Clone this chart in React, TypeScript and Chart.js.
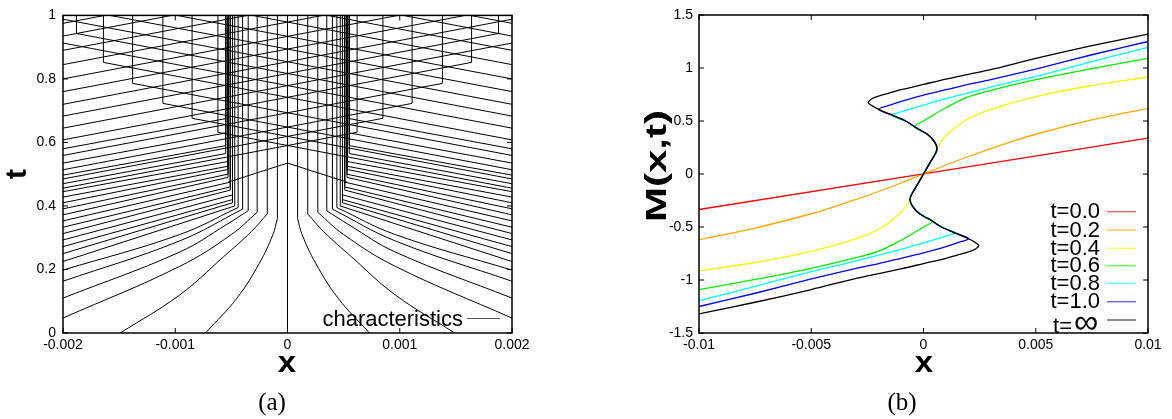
import React, { useEffect, useRef } from 'react';
import { Chart, registerables } from 'chart.js';
Chart.register(...registerables);

const SANS = '"Liberation Sans", Arial, Helvetica, sans-serif';
const SERIF = '"Liberation Serif", "DejaVu Serif", serif';

// ---------------- Panel (a): characteristics ----------------
const xTicksA = [-0.002, -0.001, 0, 0.001, 0.002];
const xTickLabelsA = ['-0.002', '-0.001', '0', '0.001', '0.002'];
const tTicksA = [0, 0.2, 0.4, 0.6, 0.8, 1];
const tTickLabelsA = ['0', '0.2', '0.4', '0.6', '0.8', '1'];

// curved early characteristics (left half), each ends in a vertical up to t = 1
const curveX = [
  [-0.00073, -0.00045, -0.00025, -0.00013, -0.00009],
  [-0.00149, -0.00096, -0.00057, -0.00032, -0.00018],
  [-0.002, -0.00096, -0.0005, -0.00027],
  [-0.002, -0.00096, -0.00055, -0.00035],
  [-0.002, -0.00096, -0.0004],
  [-0.002, -0.00096, -0.00044],
];
const curveT = [
  [0, 0.11, 0.22, 0.31, 0.36],
  [0, 0.12, 0.24, 0.32, 0.375],
  [0.047, 0.21, 0.31, 0.38],
  [0.11, 0.255, 0.34, 0.385],
  [0.163, 0.29, 0.39],
  [0.198, 0.31, 0.395],
];
// characteristics entering at x = -0.002 that stop in the dense band
const bandInT = [0.225, 0.25, 0.272, 0.293, 0.313, 0.333, 0.353, 0.372, 0.391, 0.41, 0.428, 0.445, 0.47, 0.497, 0.535, 0.58];
const bandStopX = [-0.00047, -0.00049, -0.00049, -0.00049, -0.00051, -0.00051, -0.00051, -0.00053, -0.00053, -0.00053, -0.00053, -0.00053, -0.00055, -0.00055, -0.00055, -0.00055];
const bandStopT = [0.4, 0.41, 0.42, 0.435, 0.45, 0.46, 0.475, 0.49, 0.5, 0.515, 0.525, 0.54, 0.565, 0.59, 0.63, 0.675];
// characteristics crossing the centre and stopping on the far side
const crossInT = [0.456, 0.485, 0.514, 0.559, 0.608, 0.683];
const crossStopX = [0.00062, 0.00085, 0.00111, 0.00138, 0.00164, 0.00188];
const crossStopT = [0.632, 0.676, 0.723, 0.786, 0.852, 0.943];
// characteristics passing straight through (t where they meet x = +0.002)
const passInT = [0.645, 0.72, 0.76, 0.8, 0.845, 0.89, 0.935, 0.975];
const passOutT = [0.913, 0.988, 1.028, 1.068, 1.113, 1.158, 1.203, 1.243];
// centre junction
const centerX = [-0.00053, 0, 0];
const centerT = [0.475, 0.535, 1];

// ---------------- Panel (b): M(x,t) ----------------
const xTicksB = [-0.01, -0.005, 0, 0.005, 0.01];
const xTickLabelsB = ['-0.01', '-0.005', '0', '0.005', '0.01'];
const mTicksB = [-1.5, -1, -0.5, 0, 0.5, 1, 1.5];
const mTickLabelsB = ['-1.5', '-1', '-0.5', '0', '0.5', '1', '1.5'];

const redX = [-0.01, 0.01];
const redM = [-0.335, 0.338];
const orangeX = [0, 0.001, 0.002, 0.003, 0.004, 0.005, 0.0075, 0.01];
const orangeM = [0, 0.085, 0.165, 0.24, 0.31, 0.375, 0.51, 0.62];
const yellowX = [0, 0.0003, 0.00055, 0.0006, 0.001, 0.0019, 0.003, 0.005, 0.0075, 0.01];
const yellowM = [0, 0.11, 0.2, 0.245, 0.36, 0.51, 0.61, 0.73, 0.835, 0.915];
const greenX = [-0.0004, 0, 0.00044, 0.001, 0.0019, 0.003, 0.005, 0.0075, 0.01];
const greenM = [0.446, 0.5, 0.557, 0.625, 0.72, 0.79, 0.89, 0.995, 1.09];
const cyanX = [-0.0014, -0.001, 0, 0.001, 0.002, 0.003, 0.005, 0.0075, 0.01];
const cyanM = [0.555, 0.585, 0.65, 0.71, 0.765, 0.82, 0.92, 1.06, 1.195];
const blueX = [-0.002, -0.0015, -0.001, 0, 0.001, 0.002, 0.003, 0.005, 0.0075, 0.01];
const blueM = [0.61, 0.65, 0.685, 0.745, 0.795, 0.845, 0.89, 0.99, 1.125, 1.25];
const blackUpX = [-0.00246, -0.0023, -0.002, -0.0015, -0.001, 0, 0.001, 0.002, 0.003, 0.005, 0.0075, 0.01];
const blackUpM = [0.675, 0.71, 0.735, 0.765, 0.795, 0.845, 0.895, 0.94, 0.985, 1.09, 1.21, 1.32];
const blackMidX = [0, 0.0003, 0.00055, 0.0006, 0.0005, 0.0002, -0.0004, -0.0008, -0.0014, -0.002, -0.0023, -0.00246];
const blackMidM = [0, 0.11, 0.2, 0.245, 0.3, 0.37, 0.446, 0.5, 0.555, 0.61, 0.645, 0.675];

const legendLabels = ['t=0.0', 't=0.2', 't=0.4', 't=0.6', 't=0.8', 't=1.0'];
const curveColors = ['#ff0000', '#ffa500', '#f5f500', '#00ee00', '#00ffff', '#0000ff', '#000000'];
const legendColors = ['#ff6b6b', '#ffc56b', '#ffff6b', '#6bff6b', '#6bffff', '#6b6bff', '#6b6b6b'];

type P = { x: number; y: number };
const pts = (xs: number[], ys: number[]): P[] => xs.map((x, i) => ({ x, y: ys[i] }));
const dedupe = (l: P[]): P[] => l.filter((p, i) => i === 0 || p.x !== l[i - 1].x || p.y !== l[i - 1].y);

type Line = { pts: P[]; smooth: boolean };

function leftHalfLines(): Line[] {
  const lines: Line[] = [];
  curveX.forEach((xs, i) => {
    const l = pts(xs, curveT[i]);
    lines.push({ pts: l, smooth: true });
    const last = l[l.length - 1];
    lines.push({ pts: [last, { x: last.x, y: 1 }], smooth: false });
  });
  bandInT.forEach((t, i) =>
    lines.push({
      pts: [{ x: -0.002, y: t }, { x: bandStopX[i], y: bandStopT[i] }, { x: bandStopX[i], y: 1 }],
      smooth: false,
    })
  );
  crossInT.forEach((t, i) =>
    lines.push({
      pts: [{ x: -0.002, y: t }, { x: crossStopX[i], y: crossStopT[i] }, { x: crossStopX[i], y: 1 }],
      smooth: false,
    })
  );
  passInT.forEach((t, i) => lines.push({ pts: [{ x: -0.002, y: t }, { x: 0.002, y: passOutT[i] }], smooth: false }));
  lines.push({ pts: pts(centerX, centerT), smooth: false });
  return lines;
}

function frameTicksPlugin(xt: number[], yt: number[]) {
  return {
    id: 'frameTicks',
    afterDraw(chart: any) {
      const { ctx, chartArea: a, scales } = chart;
      ctx.save();
      ctx.strokeStyle = '#000';
      ctx.lineWidth = 1;
      ctx.beginPath();
      xt.forEach((v) => {
        const p = scales.x.getPixelForValue(v);
        ctx.moveTo(p, a.bottom);
        ctx.lineTo(p, a.bottom - 5);
        ctx.moveTo(p, a.top);
        ctx.lineTo(p, a.top + 5);
      });
      yt.forEach((v) => {
        const p = scales.y.getPixelForValue(v);
        ctx.moveTo(a.left, p);
        ctx.lineTo(a.left + 5, p);
        ctx.moveTo(a.right, p);
        ctx.lineTo(a.right - 5, p);
      });
      ctx.stroke();
      ctx.lineWidth = 1.5;
      ctx.strokeRect(a.left, a.top, a.right - a.left, a.bottom - a.top);
      ctx.restore();
    },
  };
}

function axisOpts(min: number, max: number, ticks: number[], labels: string[], pad: number, fit: (s: any) => void) {
  return {
    type: 'linear',
    min,
    max,
    afterBuildTicks: (s: any) => {
      s.ticks = ticks.map((v) => ({ value: v }));
    },
    afterFit: fit,
    grid: { display: false, drawTicks: false },
    border: { display: false },
    ticks: {
      autoSkip: false,
      maxRotation: 0,
      padding: pad,
      color: '#000',
      font: { family: SANS, size: 14 },
      callback: (_v: any, i: number) => labels[i],
    },
  };
}

export default function App() {
  const refA = useRef<HTMLCanvasElement>(null);
  const refB = useRef<HTMLCanvasElement>(null);

  useEffect(() => {
    // ---- panel a ----
    const half = leftHalfLines();
    const mirrored = half.map((l) => ({ pts: l.pts.map((p) => ({ x: -p.x, y: p.y })), smooth: l.smooth }));
    const allLines: Line[] = [...half, ...mirrored, { pts: [{ x: 0, y: 0 }, { x: 0, y: 1 }], smooth: false }];
    const dsA = allLines.map((l) => ({
      data: l.pts,
      showLine: true,
      borderColor: '#000',
      borderWidth: 1,
      pointRadius: 0,
      tension: l.smooth ? 0.4 : 0,
    }));

    const textA = {
      id: 'textA',
      afterDraw(chart: any) {
        const ctx = chart.ctx;
        ctx.save();
        ctx.fillStyle = '#000';
        ctx.textAlign = 'center';
        ctx.textBaseline = 'alphabetic';
        ctx.font = `bold 30px ${SANS}`;
        ctx.save();
        ctx.translate(287, 372);
        ctx.scale(1.1, 1);
        ctx.fillText('x', 0, 0);
        ctx.restore();
        ctx.save();
        ctx.translate(26, 174);
        ctx.rotate(-Math.PI / 2);
        ctx.fillText('t', 0, 0);
        ctx.restore();
        ctx.font = `25px ${SERIF}`;
        ctx.fillText('(a)', 272, 410);
        ctx.textAlign = 'right';
        ctx.font = `22px ${SANS}`;
        ctx.fillText('characteristics', 463, 326);
        ctx.strokeStyle = '#555';
        ctx.lineWidth = 1;
        ctx.beginPath();
        ctx.moveTo(467, 318.5);
        ctx.lineTo(500, 318.5);
        ctx.stroke();
        ctx.restore();
      },
    };

    const chartA = new Chart(refA.current as HTMLCanvasElement, {
      type: 'scatter',
      data: { datasets: dsA as any },
      options: {
        responsive: false,
        animation: false,
        devicePixelRatio: 1,
        layout: { padding: { left: 0, top: 15, right: 68, bottom: 0 } },
        plugins: { legend: { display: false }, tooltip: { enabled: false } },
        events: [],
        scales: {
          x: axisOpts(-0.002, 0.002, xTicksA, xTickLabelsA, 4, (s: any) => {
            s.height = 86;
          }),
          y: axisOpts(0, 1, tTicksA, tTickLabelsA, 7, (s: any) => {
            s.width = 63;
          }),
        } as any,
      },
      plugins: [frameTicksPlugin(xTicksA, tTicksA), textA],
    });

    // ---- panel b ----
    const midPts: P[] = [
      ...blackMidX
        .slice(1)
        .map((x, i) => ({ x: -x, y: -blackMidM[i + 1] }))
        .reverse(),
      ...pts(blackMidX, blackMidM),
    ];
    const fullCurve = (xs: number[], ms: number[]): P[] => {
      const upper = pts(xs, ms);
      const lower = upper.map((p) => ({ x: -p.x, y: -p.y })).reverse();
      const join = upper[0].y;
      const mid = midPts.filter((p) => Math.abs(p.y) < join - 1e-9);
      return dedupe([...lower, ...mid, ...upper]);
    };
    const curves: P[][] = [
      pts(redX, redM),
      fullCurve(orangeX, orangeM),
      fullCurve(yellowX, yellowM),
      fullCurve(greenX, greenM),
      fullCurve(cyanX, cyanM),
      fullCurve(blueX, blueM),
      fullCurve(blackUpX, blackUpM),
    ];
    // first dataset is drawn on top in Chart.js: put black first
    const dsB = curves
      .map((c, i) => ({
        data: c,
        showLine: true,
        borderColor: curveColors[i],
        borderWidth: 1.3,
        pointRadius: 0,
        tension: 0.3,
      }))
      .reverse();

    const OX = 590;
    const textB = {
      id: 'textB',
      afterDraw(chart: any) {
        const ctx = chart.ctx;
        ctx.save();
        ctx.fillStyle = '#000';
        ctx.textBaseline = 'alphabetic';
        ctx.textAlign = 'center';
        ctx.font = `bold 30px ${SANS}`;
        ctx.save();
        ctx.translate(924 - OX, 372);
        ctx.scale(1.1, 1);
        ctx.fillText('x', 0, 0);
        ctx.restore();
        ctx.save();
        ctx.translate(666 - OX, 166);
        ctx.rotate(-Math.PI / 2);
        ctx.scale(1.4, 1);
        ctx.fillText('M(x,t)', 0, 0);
        ctx.restore();
        ctx.font = `25px ${SERIF}`;
        ctx.fillText('(b)', 902 - OX, 410);
        // legend
        ctx.textAlign = 'right';
        ctx.font = `22px ${SANS}`;
        const lineY = [211.7, 230, 248.3, 265.7, 283.3, 301.7, 320];
        legendLabels.forEach((lab, i) => {
          ctx.fillText(lab, 1100 - OX, lineY[i] + 6.5);
        });
        ctx.fillText('t=', 1072 - OX, 333);
        ctx.textAlign = 'left';
        ctx.font = `34px ${SANS}`;
        ctx.fillText('\u221E', 1074 - OX, 333);
        ctx.lineWidth = 1.5;
        lineY.forEach((y, i) => {
          ctx.strokeStyle = legendColors[i];
          ctx.beginPath();
          ctx.moveTo(1107 - OX, y);
          ctx.lineTo(1136 - OX, y);
          ctx.stroke();
        });
        ctx.restore();
      },
    };

    const chartB = new Chart(refB.current as HTMLCanvasElement, {
      type: 'scatter',
      data: { datasets: dsB as any },
      options: {
        responsive: false,
        animation: false,
        devicePixelRatio: 1,
        layout: { padding: { left: 0, top: 15, right: 24, bottom: 0 } },
        plugins: { legend: { display: false }, tooltip: { enabled: false } },
        events: [],
        scales: {
          x: axisOpts(-0.01, 0.01, xTicksB, xTickLabelsB, 4, (s: any) => {
            s.height = 86;
          }),
          y: axisOpts(-1.5, 1.5, mTicksB, mTickLabelsB, 6, (s: any) => {
            s.width = 109;
          }),
        } as any,
      },
      plugins: [frameTicksPlugin(xTicksB, mTicksB), textB],
    });

    return () => {
      chartA.destroy();
      chartB.destroy();
    };
  }, []);

  return (
    <div style={{ position: 'absolute', left: 0, top: 0, width: 1172, height: 419, background: '#fff' }}>
      <canvas
        ref={refA}
        width={580}
        height={419}
        style={{ position: 'absolute', left: 0, top: 0, width: 580, height: 419 }}
      />
      <canvas
        ref={refB}
        width={582}
        height={419}
        style={{ position: 'absolute', left: 590, top: 0, width: 582, height: 419 }}
      />
    </div>
  );
}
